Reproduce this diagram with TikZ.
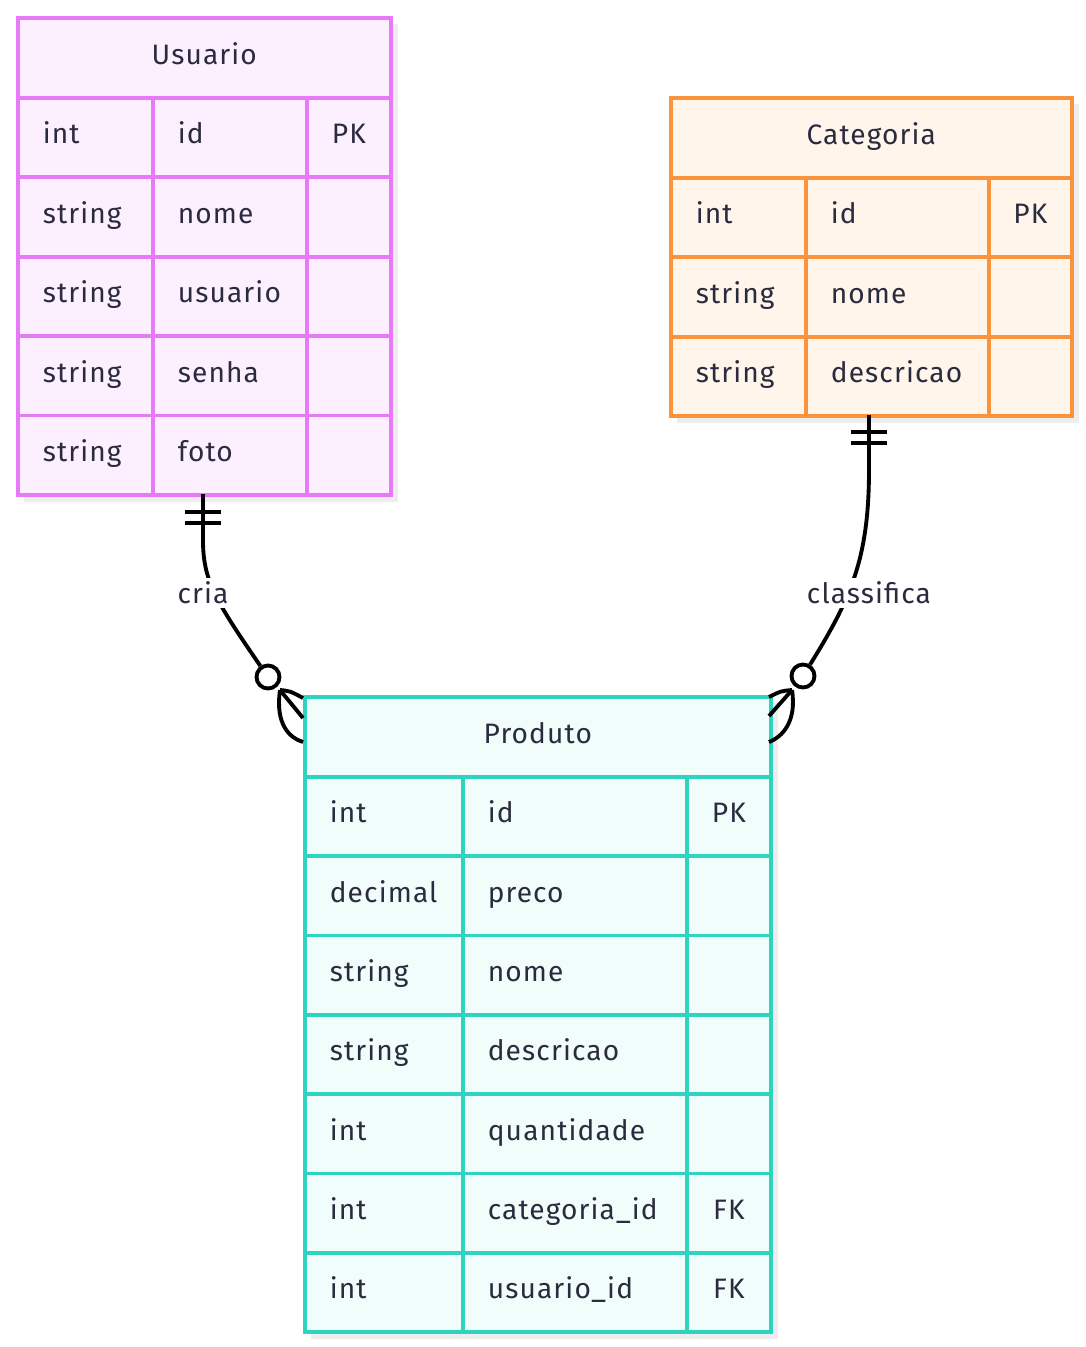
\documentclass[tikz,border=0pt]{standalone}
\usepackage{fontspec}
\setmainfont{Fira Sans}[LetterSpace=4]
\usetikzlibrary{positioning}

\definecolor{inkcol}{HTML}{2B2B40}
\definecolor{shadecol}{HTML}{EDEDED}
\definecolor{userline}{HTML}{E879F9}
\definecolor{userfill}{HTML}{FDF0FE}
\definecolor{catline}{HTML}{FB923C}
\definecolor{catfill}{HTML}{FFF5EB}
\definecolor{prodline}{HTML}{2DD4BF}
\definecolor{prodfill}{HTML}{F0FDFA}

\tikzset{
  ertext/.style={font=\fontsize{16}{19}\selectfont, text=inkcol},
  cellbox/.style={ertext, anchor=north west, line width=2.1pt,
    minimum height=1.588cm, inner ysep=0pt, text height=0.8em, text depth=0.07em},
  headbox/.style={cellbox, minimum height=1.6cm},
  leftcell/.style={cellbox, inner xsep=0.5cm, align=left},
  keycell/.style={cellbox, inner xsep=0pt},
  relline/.style={line width=2.2pt, black},
  rellabel/.style={ertext, fill=white, inner sep=2pt},
  zerocircle/.style={circle, draw, fill=white, line width=2.2pt,
    minimum size=0.46cm, inner sep=0pt}
}

\begin{document}
\begin{tikzpicture}[x=0.02cm,y=-0.02cm]
\useasboundingbox (0,0) rectangle (1086,1347);

% shadows
\fill[shadecol] (24,24) rectangle (398,502);
\fill[shadecol] (677,104) rectangle (1079,423);
\fill[shadecol] (311,703) rectangle (778,1339);

% Usuario
\node[headbox, draw=userline, fill=userfill, minimum width=7.46cm] (usuario) at (16,16) {Usuario};
\foreach \t/\n/\k [count=\i] in {int/id/PK, string/nome/{}, string/usuario/{},
    string/senha/{}, string/foto/{}} {
  \pgfmathsetmacro\yy{96+(\i-1)*79.4}
  \node[leftcell, draw=userline, fill=userfill, text width=1.7cm] (u-t\i) at (16,\yy) {\t};
  \node[leftcell, draw=userline, fill=userfill, text width=2.08cm] (u-n\i) at (151,\yy) {\n};
  \node[keycell, draw=userline, fill=userfill, minimum width=1.68cm] (u-k\i) at (305,\yy) {\k};
}

% Categoria
\node[headbox, draw=catline, fill=catfill, minimum width=8.02cm] (categoria) at (669,96) {Categoria};
\foreach \t/\n/\k [count=\i] in {int/id/PK, string/nome/{}, string/descricao/{}} {
  \pgfmathsetmacro\yy{176+(\i-1)*79.4}
  \node[leftcell, draw=catline, fill=catfill, text width=1.7cm] (c-t\i) at (669,\yy) {\t};
  \node[leftcell, draw=catline, fill=catfill, text width=2.66cm] (c-n\i) at (804,\yy) {\n};
  \node[keycell, draw=catline, fill=catfill, minimum width=1.66cm] (c-k\i) at (987,\yy) {\k};
}

% Produto
\node[headbox, draw=prodline, fill=prodfill, minimum width=9.32cm] (produto) at (303,695) {Produto};
\foreach \t/\n/\k [count=\i] in {int/id/PK, decimal/preco/{}, string/nome/{},
    string/descricao/{}, int/quantidade/{}, int/categoria\_id/FK, int/usuario\_id/FK} {
  \pgfmathsetmacro\yy{775+(\i-1)*79.3}
  \node[leftcell, draw=prodline, fill=prodfill, text width=2.16cm] (p-t\i) at (303,\yy) {\t};
  \node[leftcell, draw=prodline, fill=prodfill, text width=3.48cm] (p-n\i) at (461,\yy) {\n};
  \node[keycell, draw=prodline, fill=prodfill, minimum width=1.68cm] (p-k\i) at (685,\yy) {\k};
}

% Usuario -- cria -- Produto
\coordinate (u-end) at (203,494);
\coordinate (u-fork) at (280,690);
\node[zerocircle] (u-zero) at (268,677) {};
\draw[relline] (u-end) -- (203,540) .. controls (203,580) and (215,600) .. (u-zero);
\draw[relline] (185,512) -- (221,512) (185,523) -- (221,523);
\draw[relline] (u-fork) .. controls (290,691) .. (303,698);
\draw[relline] (u-fork) -- (303,718);
\draw[relline] (u-fork) .. controls (275,725) and (290,738) .. (303,742);
\node[rellabel] (cria) at (203,593) {cria};

% Categoria -- classifica -- Produto
\coordinate (c-end) at (869,415);
\coordinate (c-fork) at (792,690);
\node[zerocircle] (c-zero) at (803,676) {};
\draw[relline] (c-end) -- (869,470) .. controls (869,560) and (850,600) .. (c-zero);
\draw[relline] (851,432) -- (887,432) (851,443) -- (887,443);
\draw[relline] (c-fork) .. controls (781,691) .. (769,697);
\draw[relline] (c-fork) -- (769,716);
\draw[relline] (c-fork) .. controls (797,722) and (782,737) .. (769,742);
\node[rellabel] (classifica) at (869,593) {classifica};
\end{tikzpicture}
\end{document}
